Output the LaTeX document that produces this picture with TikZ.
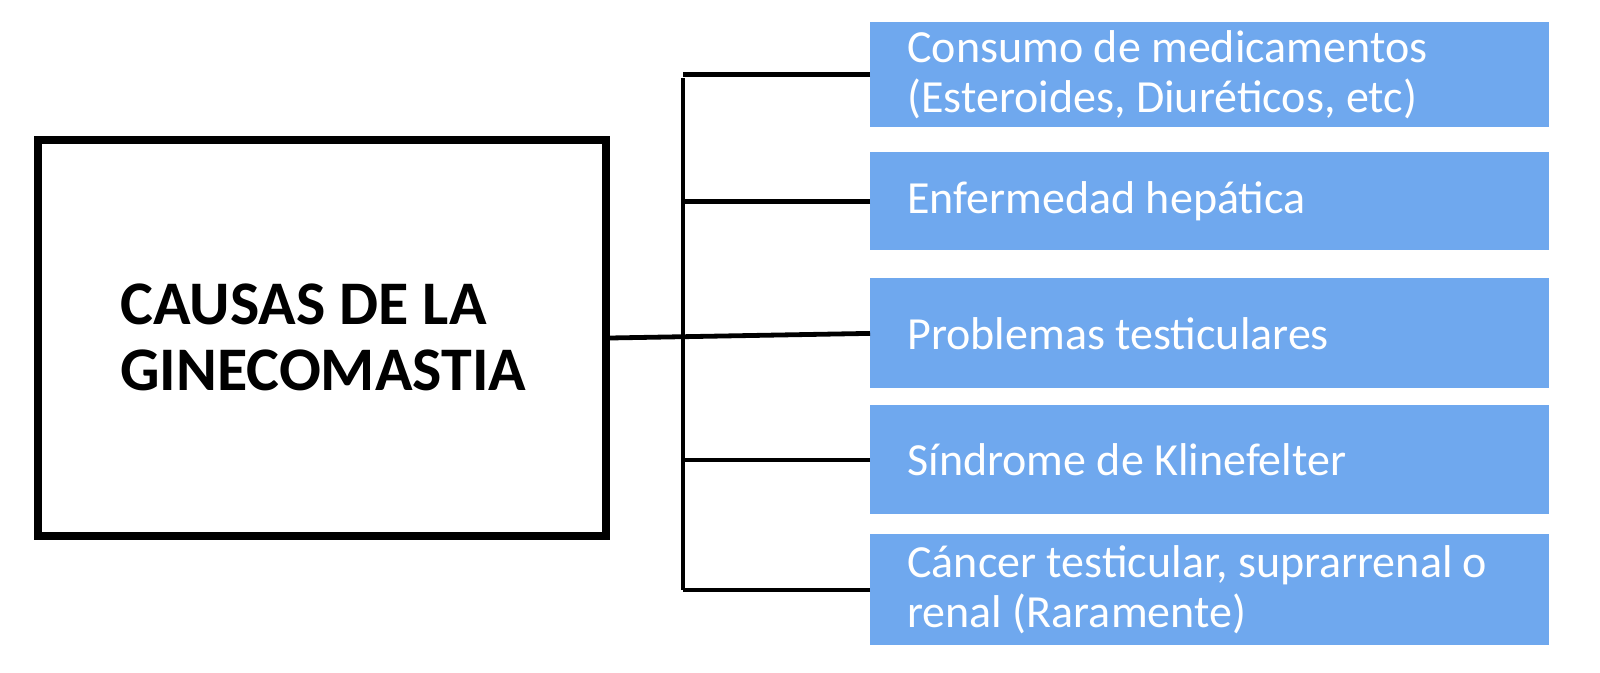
\documentclass[tikz,border=0pt]{standalone}
\usepackage{fontspec}
\setmainfont{Carlito}
\definecolor{cblue}{HTML}{6FA8EE}
\begin{document}
\begin{tikzpicture}[x=0.5pt,y=-0.5pt,
  cause/.style={draw=none,fill=cblue,text=white,minimum width=339.5pt,minimum height={#1*0.5pt},anchor=north west,align=flush left,text width=339.5pt,inner sep=0pt,font=\fontsize{23}{25}\selectfont},
  link/.style={line width=2.4pt,black}]
\node[draw,line width=4pt,minimum width=284pt,minimum height=198pt,anchor=north west,inner sep=0pt] (main) at (34,136) {};
\node[anchor=west,font=\bfseries\fontsize{31}{33}\selectfont,align=left,inner sep=0pt] (t) at (120,337) {CAUSAS DE LA\\GINECOMASTIA};
\node[cause=105] (b1) at (870,22) {\hspace*{18.5pt}Consumo de medicamentos\\\hspace*{18.5pt}(Esteroides, Diuréticos, etc)};
\node[cause=98] (b2) at (870,152) {\hspace*{18.5pt}Enfermedad hepática};
\node[cause=110] (b3) at (870,278) {\hspace*{18.5pt}Problemas testiculares};
\node[cause=109] (b4) at (870,405) {\hspace*{18.5pt}Síndrome de Klinefelter};
\node[cause=111] (b5) at (870,534) {\hspace*{18.5pt}Cáncer testicular, suprarrenal o\\\hspace*{18.5pt}renal (Raramente)};
\coordinate (top) at (683,78);
\coordinate (bot) at (683,590);
\draw[link] (top) -- (bot);
\draw[link] (main.east) -- (b3.west);
\foreach \b in {b1,b2,b4,b5}{\draw[link] (\b.west) -- (top|-\b.west);}
\pgfresetboundingbox
\useasboundingbox (0,0) rectangle (1600,673);
\end{tikzpicture}
\end{document}
